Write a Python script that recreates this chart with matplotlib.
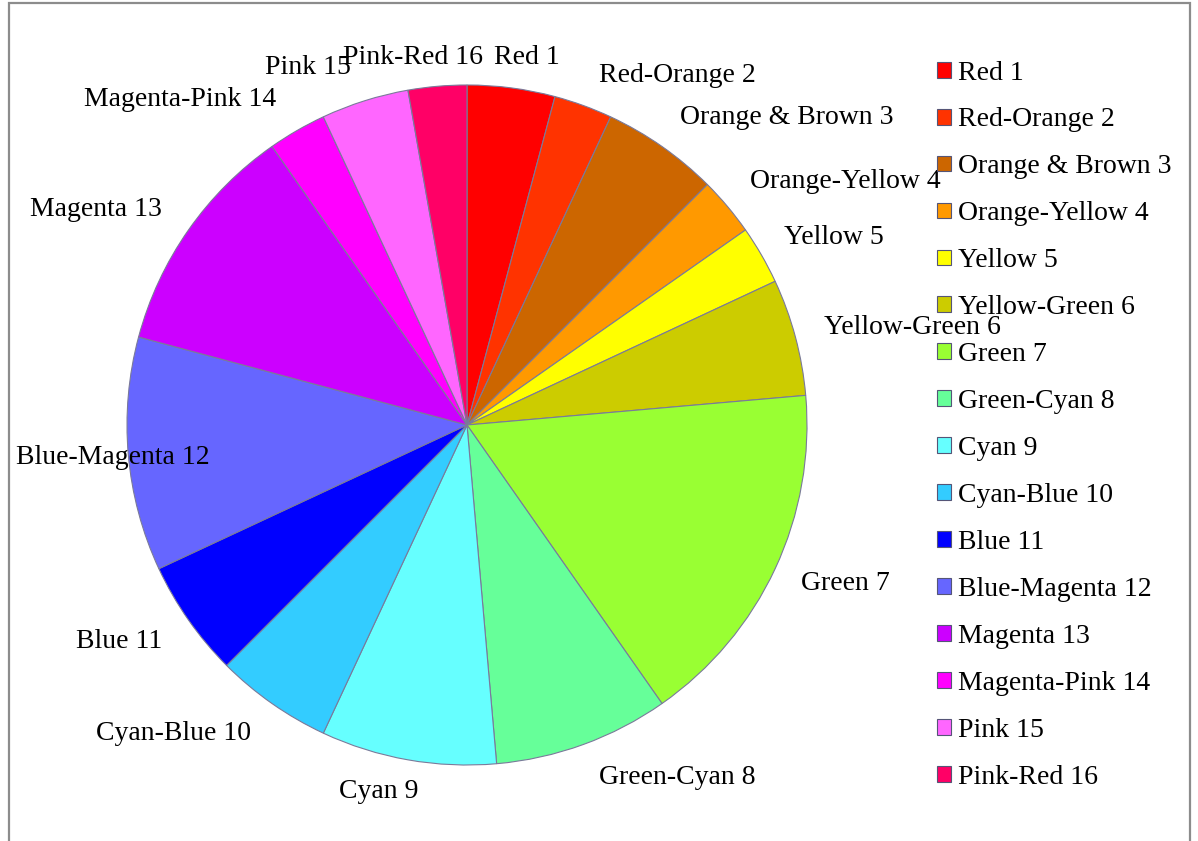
import matplotlib
matplotlib.use("Agg")
import matplotlib.pyplot as plt
from matplotlib.patches import Rectangle

# ---- data ----
categories = ["Red 1", "Red-Orange 2", "Orange & Brown 3", "Orange-Yellow 4", "Yellow 5",
              "Yellow-Green 6", "Green 7", "Green-Cyan 8", "Cyan 9", "Cyan-Blue 10",
              "Blue 11", "Blue-Magenta 12", "Magenta 13", "Magenta-Pink 14", "Pink 15",
              "Pink-Red 16"]
values = [1.5, 1, 2, 1, 1, 2, 6, 3, 3, 2, 2, 4, 4, 1, 1.5, 1]
colors = ["#FF0000", "#FF3300", "#CC6600", "#FF9900", "#FFFF00", "#CCCC00", "#99FF33",
          "#66FF99", "#66FFFF", "#33CCFF", "#0000FF", "#6666FF", "#CC00FF", "#FF00FF",
          "#FF66FF", "#FF0066"]

# ---- layout (pixel positions of label centres in reference) ----
label_px = [(527, 57), (677, 75), (787, 117), (845, 182), (834, 238), (912, 328),
            (845, 583), (677, 777), (379, 792), (173, 733), (119, 642), (113, 458),
            (96, 210), (180, 100), (308, 68), (413, 57)]

W, H = 1198, 841
cx, cy, R = 467, 425, 340
FONT = "Liberation Serif"
FS = 20

fig = plt.figure(figsize=(W / 100, H / 100), dpi=100)
fig.patch.set_facecolor("white")
ax = fig.add_axes([(cx - R) / W, (H - cy - R) / H, 2 * R / W, 2 * R / H])
wedges, texts = ax.pie(values, labels=categories, colors=colors, startangle=90,
                       counterclock=False,
                       wedgeprops=dict(edgecolor="#7a7a9a", linewidth=0.8),
                       textprops=dict(family=FONT, fontsize=FS, color="black"))
for t, (px, py) in zip(texts, label_px):
    t.set_position(((px - cx) / R, (cy - py) / R))
    t.set_ha("center")
    t.set_va("center")
ax.set_xlim(-1, 1)
ax.set_ylim(-1, 1)
ax.set_aspect("auto")
ax.axis("off")

leg = fig.legend(wedges, categories, loc="upper left",
                 bbox_to_anchor=(937 / W, 1 - 60.5 / H), frameon=False,
                 prop=dict(family=FONT, size=FS), borderpad=0, borderaxespad=0,
                 handlelength=0.5, handleheight=0.5, handletextpad=0.25,
                 labelspacing=0.79)
for h in leg.legend_handles:
    h.set_edgecolor("#555577")
    h.set_linewidth(0.8)

# outer chart frame
fig.add_artist(Rectangle((9 / W, -0.01), (1190 - 9) / W, 1 - 3 / H + 0.01,
                         transform=fig.transFigure, fill=False,
                         edgecolor="#8c8c8c", linewidth=1.6))

fig.savefig("out.png", dpi=100)
